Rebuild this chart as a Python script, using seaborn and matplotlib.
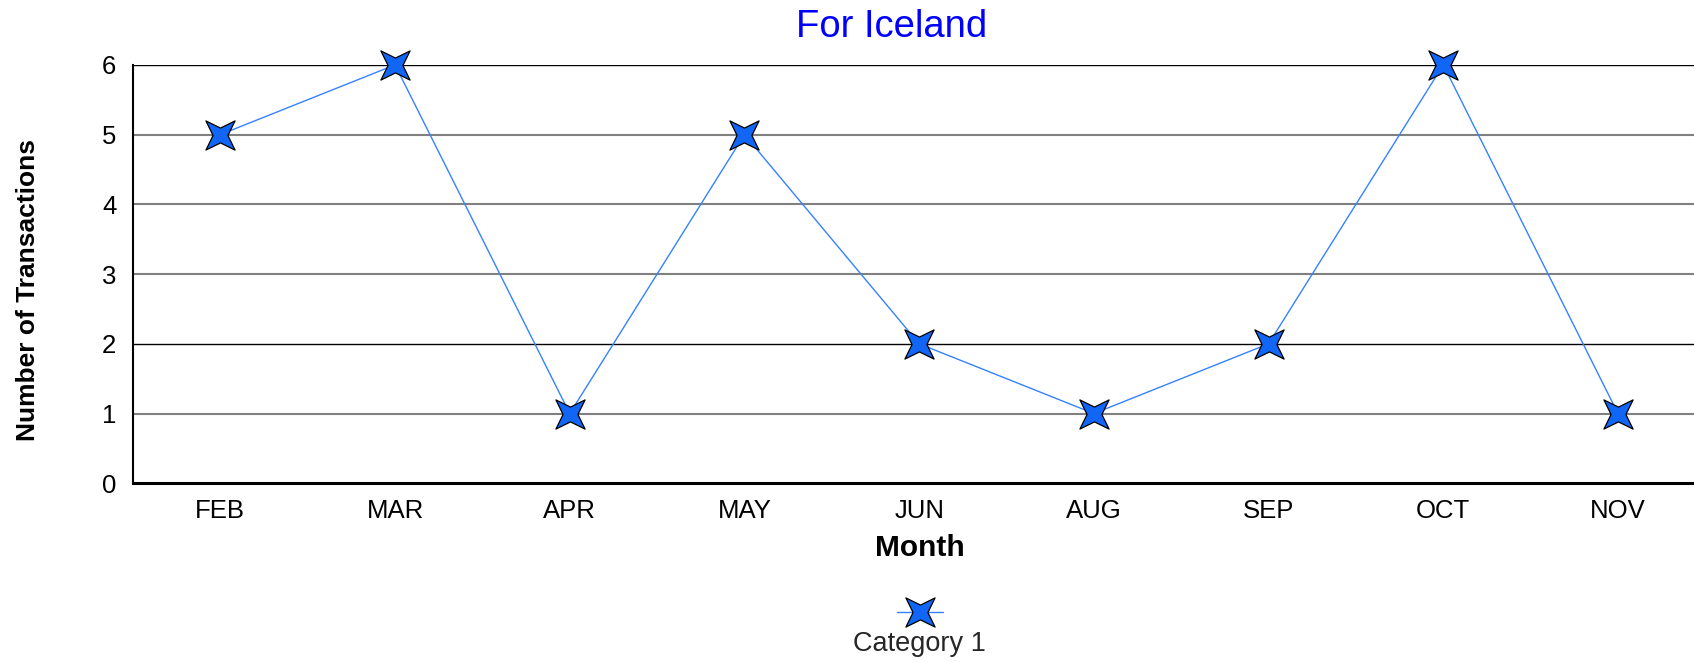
import numpy as np
import seaborn as sns
from matplotlib import pyplot as plt
from matplotlib.path import Path
from matplotlib.lines import Line2D

# Data
months = ['FEB', 'MAR', 'APR', 'MAY', 'JUN', 'AUG', 'SEP', 'OCT', 'NOV']
transactions = [5, 6, 1, 5, 2, 1, 2, 6, 1]
yticks = [0, 1, 2, 3, 4, 5, 6]

sns.set_style('white')
plt.rcParams['font.family'] = ['Liberation Sans', 'DejaVu Sans']

# 4-point star marker (tips on the diagonals)
t = 0.707
r = 0.36
star = Path(
    [(t, t), (0, r), (-t, t), (-r, 0), (-t, -t), (0, -r), (t, -t), (r, 0), (t, t)],
    [Path.MOVETO] + [Path.LINETO] * 7 + [Path.CLOSEPOLY])

lineColor = '#3582ff'
fillColor = '#1266f5'

fig = plt.figure(figsize=(16.94, 6.62), dpi=100)
ax = fig.add_axes([0.0785, 0.27, 0.9215, 0.632])

for y in yticks[1:]:
    if y in (2, 6):
        ax.axhline(y, color='black', lw=1.0, zorder=1)
    else:
        ax.axhline(y, color='#808080', lw=1.5, zorder=1)

sns.lineplot(x=months, y=transactions, sort=False, ax=ax, color=lineColor, lw=1,
             marker=star, markersize=21, markerfacecolor=fillColor,
             markeredgecolor='black', markeredgewidth=0.9, zorder=3, clip_on=False)

ax.set_xlim(-0.5, 8.435)
ax.set_ylim(0, 6)
ax.set_yticks(yticks)
ax.tick_params(axis='both', length=0, labelsize=18.5, labelcolor='black')
ax.tick_params(axis='y', pad=12)
ax.tick_params(axis='x', pad=11)
for s in ['top', 'right']:
    ax.spines[s].set_visible(False)
ax.spines['left'].set_linewidth(1.5)
ax.spines['bottom'].set_linewidth(2.2)
ax.spines['left'].set_color('black')
ax.spines['bottom'].set_color('black')

ax.set_title('For Iceland', color='#0000ff', fontsize=27.5, pad=20, x=0.486)
ax.set_xlabel('Month', fontsize=21.5, fontweight='bold', color='black', va='center')
ax.xaxis.set_label_coords(0.504, -0.155)
ax.set_ylabel('Number of Transactions', fontsize=19, fontweight='bold', color='black', va='center')
ax.yaxis.set_label_coords(-0.067, 0.462)

handle = Line2D([], [], color=lineColor, lw=1, marker=star, markersize=21,
                markerfacecolor=fillColor, markeredgecolor='black', markeredgewidth=0.9)
fig.legend(handles=[handle], labels=[''], loc='center', bbox_to_anchor=(0.543, 0.074),
           frameon=False, handlelength=3.3, handletextpad=0)
fig.text(0.543, 0.027, 'Category 1', ha='center', va='center', fontsize=19.5)

fig.savefig('out.png', dpi=100)
